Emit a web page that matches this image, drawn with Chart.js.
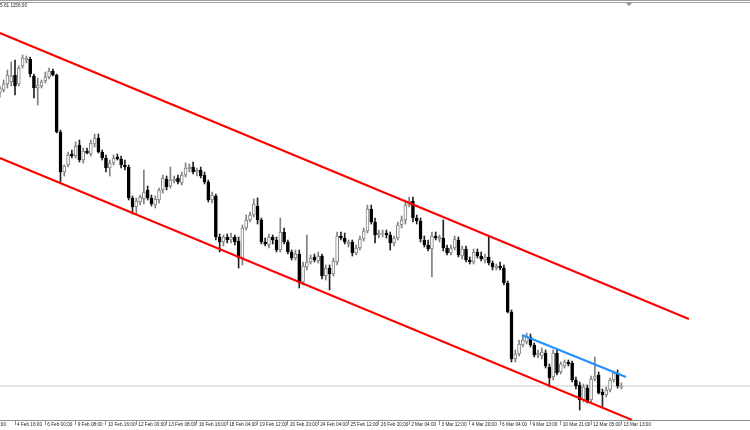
<!DOCTYPE html>
<html>
<head>
<meta charset="utf-8">
<script src="https://cdn.jsdelivr.net/npm/chart.js@4.4.1/dist/chart.umd.min.js"></script>
<style>
  html, body { margin: 0; padding: 0; background: #fff; }
  #wrap { width: 750px; height: 430px; }
</style>
</head>
<body>
<div id="wrap"><canvas id="chart" width="750" height="430"></canvas></div>
<script>
// Gold H4 candles, 4 Feb - 13 Mar (one entry per bar)
const open = [
  1272.8, 1274.0, 1276.4, 1277.2, 1280.0, 1276.4, 1283.6, 1286.0, 1286.4, 1279.6,
  1274.8, 1275.6, 1277.6, 1279.2, 1281.6, 1280.0, 1257.2, 1241.2, 1244.0, 1248.4,
  1247.6, 1252.0, 1246.0, 1249.6, 1248.4, 1252.4, 1254.8, 1249.2, 1246.8, 1242.8,
  1244.8, 1247.2, 1246.4, 1244.0, 1243.2, 1230.8, 1227.2, 1229.2, 1230.4, 1234.0,
  1230.8, 1228.0, 1230.0, 1234.0, 1238.4, 1235.6, 1237.6, 1238.8, 1236.8, 1240.0,
  1242.4, 1243.2, 1241.2, 1242.0, 1240.0, 1237.2, 1230.0, 1231.6, 1215.2, 1213.2,
  1215.2, 1214.0, 1215.2, 1213.6, 1206.8, 1218.8, 1222.0, 1224.0, 1227.6, 1222.0,
  1213.2, 1212.0, 1215.2, 1214.0, 1210.0, 1217.2, 1213.2, 1209.2, 1206.8, 1208.4,
  1197.2, 1203.2, 1205.2, 1207.2, 1205.6, 1207.6, 1199.6, 1202.8, 1200.4, 1205.2,
  1215.6, 1214.8, 1212.4, 1213.2, 1208.8, 1210.8, 1214.4, 1217.6, 1226.4, 1221.2,
  1216.0, 1216.4, 1216.8, 1216.0, 1212.8, 1214.8, 1220.0, 1222.0, 1228.0, 1229.6,
  1222.8, 1221.6, 1214.0, 1212.0, 1210.4, 1215.6, 1214.4, 1214.8, 1210.8, 1208.8,
  1210.8, 1214.0, 1207.6, 1210.4, 1206.0, 1205.2, 1209.2, 1207.6, 1206.0, 1207.2,
  1204.8, 1202.8, 1203.6, 1202.8, 1196.8, 1185.2, 1166.4, 1168.4, 1172.0, 1173.2,
  1175.2, 1172.0, 1168.0, 1167.6, 1168.8, 1163.2, 1159.2, 1168.8, 1161.2, 1163.6,
  1165.2, 1164.8, 1158.0, 1156.0, 1150.0, 1154.8, 1150.0, 1158.4, 1160.0, 1153.2,
  1152.0, 1154.0, 1158.0, 1160.8, 1155.2
];
const high = [
  1275.6, 1278.0, 1282.0, 1285.2, 1286.0, 1283.6, 1288.0, 1287.6, 1287.2, 1280.4,
  1278.8, 1278.0, 1281.2, 1282.8, 1282.4, 1280.4, 1258.0, 1244.0, 1249.2, 1250.0,
  1253.2, 1254.0, 1250.8, 1250.8, 1254.0, 1256.4, 1256.4, 1250.0, 1248.0, 1246.0,
  1248.0, 1248.4, 1247.6, 1246.0, 1244.0, 1231.6, 1230.8, 1232.0, 1242.0, 1235.6,
  1232.0, 1231.6, 1234.8, 1240.0, 1239.6, 1243.2, 1239.6, 1240.0, 1241.2, 1244.8,
  1244.4, 1245.2, 1242.8, 1243.2, 1241.2, 1238.0, 1233.2, 1232.4, 1216.4, 1216.0,
  1216.4, 1216.8, 1216.0, 1215.2, 1220.0, 1224.0, 1225.2, 1230.4, 1230.8, 1222.8,
  1214.8, 1216.4, 1216.0, 1215.2, 1222.8, 1218.8, 1214.0, 1210.0, 1210.0, 1210.0,
  1205.2, 1216.0, 1208.0, 1208.4, 1209.2, 1208.4, 1204.0, 1204.0, 1206.8, 1217.2,
  1217.2, 1216.8, 1214.0, 1214.0, 1212.0, 1215.6, 1218.8, 1228.0, 1228.0, 1222.8,
  1218.0, 1218.0, 1218.0, 1217.2, 1215.6, 1221.2, 1223.6, 1230.0, 1231.2, 1231.2,
  1224.0, 1222.8, 1215.6, 1214.0, 1217.2, 1217.2, 1216.0, 1222.0, 1212.0, 1212.0,
  1215.6, 1215.2, 1211.6, 1211.6, 1207.2, 1210.4, 1210.4, 1209.2, 1208.4, 1215.2,
  1205.6, 1204.4, 1205.2, 1204.0, 1197.6, 1186.0, 1170.0, 1174.0, 1175.6, 1176.8,
  1176.4, 1172.8, 1170.0, 1170.8, 1170.0, 1164.4, 1170.0, 1170.0, 1165.2, 1166.0,
  1166.0, 1165.6, 1159.2, 1157.2, 1156.4, 1156.0, 1159.6, 1167.2, 1161.2, 1154.4,
  1155.2, 1158.8, 1161.6, 1162.0, 1156.8
];
const low = [
  1271.2, 1273.2, 1274.8, 1275.6, 1272.0, 1275.6, 1282.8, 1284.8, 1279.2, 1270.8,
  1268.0, 1274.8, 1276.8, 1278.4, 1279.6, 1256.8, 1237.2, 1239.6, 1243.2, 1246.8,
  1246.8, 1245.2, 1244.8, 1248.4, 1247.6, 1251.2, 1248.8, 1246.0, 1241.2, 1239.6,
  1244.0, 1246.0, 1242.8, 1242.0, 1230.0, 1224.4, 1224.4, 1228.0, 1228.4, 1230.0,
  1227.6, 1226.8, 1228.8, 1232.8, 1234.0, 1234.8, 1236.8, 1236.4, 1236.0, 1239.2,
  1241.2, 1240.4, 1239.6, 1238.8, 1236.4, 1229.2, 1228.8, 1214.0, 1209.2, 1211.6,
  1212.8, 1212.8, 1212.0, 1202.8, 1204.0, 1218.0, 1221.2, 1223.2, 1220.4, 1212.4,
  1211.6, 1210.8, 1212.4, 1209.2, 1209.2, 1212.4, 1208.4, 1206.0, 1206.0, 1194.8,
  1196.0, 1202.0, 1204.4, 1205.2, 1204.8, 1198.4, 1198.0, 1194.0, 1199.6, 1204.0,
  1214.0, 1212.4, 1211.2, 1207.6, 1208.0, 1210.0, 1213.6, 1216.8, 1220.4, 1212.8,
  1214.8, 1215.2, 1214.8, 1210.0, 1211.6, 1214.0, 1218.8, 1220.4, 1227.2, 1221.2,
  1220.4, 1213.2, 1211.2, 1209.6, 1199.2, 1214.0, 1213.2, 1209.6, 1208.0, 1208.0,
  1210.0, 1207.2, 1206.4, 1205.2, 1204.4, 1204.4, 1206.8, 1205.6, 1204.8, 1204.0,
  1202.0, 1202.0, 1202.0, 1196.0, 1184.8, 1165.2, 1165.2, 1167.6, 1171.2, 1172.4,
  1171.2, 1167.2, 1166.8, 1166.4, 1162.8, 1155.2, 1158.0, 1160.0, 1160.4, 1162.8,
  1163.6, 1157.2, 1154.4, 1146.0, 1149.2, 1148.8, 1149.2, 1157.6, 1152.4, 1147.2,
  1151.2, 1153.2, 1157.2, 1154.8, 1154.4
];
const close = [
  1274.8, 1276.4, 1280.0, 1279.6, 1275.6, 1282.8, 1286.8, 1286.8, 1280.4, 1274.8,
  1276.0, 1277.2, 1279.2, 1281.6, 1280.0, 1257.2, 1241.2, 1243.6, 1248.0, 1247.6,
  1251.6, 1246.0, 1249.6, 1248.8, 1252.8, 1254.8, 1249.2, 1246.8, 1242.8, 1244.8,
  1246.8, 1246.4, 1244.0, 1243.2, 1230.8, 1227.2, 1229.6, 1231.2, 1233.2, 1230.8,
  1228.4, 1230.4, 1234.0, 1238.8, 1235.2, 1238.0, 1238.4, 1237.2, 1240.0, 1242.8,
  1243.2, 1241.2, 1242.0, 1239.6, 1237.2, 1230.0, 1232.0, 1215.2, 1213.2, 1215.2,
  1214.0, 1215.2, 1213.2, 1206.8, 1218.8, 1222.0, 1224.0, 1228.4, 1222.0, 1213.2,
  1212.4, 1215.2, 1214.0, 1210.0, 1217.2, 1213.2, 1209.2, 1206.8, 1208.4, 1196.8,
  1203.6, 1205.2, 1206.8, 1206.0, 1207.6, 1199.6, 1202.8, 1200.4, 1205.6, 1215.6,
  1214.8, 1213.2, 1213.2, 1208.8, 1210.8, 1214.4, 1217.6, 1226.4, 1221.2, 1216.0,
  1216.8, 1216.8, 1216.0, 1212.8, 1214.8, 1220.0, 1222.0, 1228.0, 1229.6, 1222.8,
  1221.6, 1214.4, 1212.0, 1210.4, 1215.6, 1214.8, 1215.2, 1210.8, 1208.8, 1210.8,
  1214.4, 1208.0, 1210.4, 1206.0, 1205.2, 1209.2, 1207.6, 1206.4, 1207.2, 1204.8,
  1203.2, 1203.6, 1202.8, 1196.8, 1185.2, 1166.4, 1168.4, 1172.4, 1174.0, 1175.2,
  1172.0, 1168.0, 1168.8, 1169.2, 1163.6, 1158.8, 1168.8, 1160.8, 1164.4, 1165.2,
  1164.4, 1158.0, 1155.6, 1150.0, 1155.2, 1149.2, 1158.4, 1159.6, 1152.8, 1152.0,
  1154.0, 1158.0, 1160.8, 1155.6, 1155.6
];

// time axis labels (bar index -> text)
const tickIndex = [4, 12, 20, 28, 36, 44, 52, 60, 68, 76, 84, 92, 100, 108, 116, 124, 132, 140, 148, 156, 164];
const tickText = [
  '4 Feb 16:00', '6 Feb 00:00', '9 Feb 08:00', '10 Feb 16:00', '12 Feb 00:00', '13 Feb 08:00',
  '16 Feb 16:00', '18 Feb 04:00', '19 Feb 12:00', '20 Feb 20:00', '24 Feb 04:00', '25 Feb 12:00',
  '26 Feb 20:00', '2 Mar 04:00', '3 Mar 12:00', '4 Mar 20:00', '6 Mar 04:00', '9 Mar 13:00',
  '10 Mar 21:00', '12 Mar 05:00', '13 Mar 13:00'
];
// leftmost label, cut by the window edge
const cutTickIndex = -5.5;
const cutTickText = '3 Feb 08:00';

// drawn trend lines: [barIndex, price]
const upperChannel = [[0, 1296.8], [181.8, 1182.4]];
const lowerChannel = [[0, 1246.8], [166.8, 1142.0]];
const blueTrend = [[137.8, 1176.0], [165.2, 1159.2]];
const lastPrice = 1155.6;
const headerText = '5.61 1156.00';

const isBull = open.map((o, i) => close[i] >= o);
const bodyFill = isBull.map(b => b ? '#ffffff' : '#000000');
const bodyEdge = isBull.map(b => b ? '#808080' : '#000000');
const wickColor = isBull.map(b => b ? '#808080' : '#222222');

const toPoints = arr => arr.map(p => ({ x: p[0], y: p[1] }));
const labelFont = '4.7px "Liberation Sans", Arial, sans-serif';

// window frame, header text and the cut-off first time label
const framePlugin = {
    id: 'frame',
    beforeDraw(chart) {
        const ctx = chart.ctx;
        ctx.save();
        ctx.fillStyle = '#ffffff';
        ctx.fillRect(0, 0, chart.width, chart.height);
        ctx.restore();
    },
    afterDraw(chart) {
        const ctx = chart.ctx;
        const xs = chart.scales.x;
        ctx.save();
        ctx.strokeStyle = '#a0a0a0';
        ctx.lineWidth = 1;
        ctx.beginPath();
        ctx.moveTo(0, 0.5); ctx.lineTo(chart.width, 0.5);
        ctx.moveTo(0, 2.5); ctx.lineTo(chart.width, 2.5);
        ctx.stroke();
        ctx.fillStyle = '#909090';
        ctx.beginPath();
        ctx.moveTo(626, 3); ctx.lineTo(632, 3); ctx.lineTo(629, 6);
        ctx.fill();
        ctx.fillStyle = '#222222';
        ctx.font = labelFont;
        ctx.textBaseline = 'middle';
        ctx.fillText(headerText, 0, 5.5);
        ctx.textBaseline = 'middle';
        ctx.textAlign = 'left';
        ctx.fillText(cutTickText, xs.getPixelForValue(cutTickIndex) + 2, chart.chartArea.bottom + 5);
        ctx.restore();
    }
};

new Chart(document.getElementById('chart'), {
    type: 'bar',
    data: {
        datasets: [
            {
                type: 'line',
                data: toPoints(upperChannel),
                borderColor: '#ff0000',
                borderWidth: 2,
                pointRadius: 0,
                order: 0
            },
            {
                type: 'line',
                data: toPoints(lowerChannel),
                borderColor: '#ff0000',
                borderWidth: 2,
                pointRadius: 0,
                order: 0
            },
            {
                type: 'line',
                data: toPoints(blueTrend),
                borderColor: '#1e90ff',
                borderWidth: 2,
                pointRadius: 0,
                order: 0
            },
            {
                label: 'Body',
                data: open.map((o, i) => ({ x: i, y: [o, close[i]] })),
                backgroundColor: bodyFill,
                borderColor: bodyEdge,
                borderWidth: 1,
                borderSkipped: false,
                barThickness: 3,
                minBarLength: 1,
                grouped: false,
                order: 1
            },
            {
                label: 'Wick',
                data: low.map((l, i) => ({ x: i, y: [l, high[i]] })),
                backgroundColor: wickColor,
                borderWidth: 0,
                barThickness: 1,
                grouped: false,
                order: 2
            },
            {
                type: 'line',
                data: [{ x: -5, y: lastPrice }, { x: 210, y: lastPrice }],
                borderColor: '#c8c8c8',
                borderWidth: 1,
                pointRadius: 0,
                order: 3
            }
        ]
    },
    options: {
        responsive: false,
        animation: false,
        devicePixelRatio: 1,
        layout: { padding: { top: 3, left: 0, right: 0, bottom: 0 } },
        plugins: {
            legend: { display: false },
            tooltip: { enabled: false }
        },
        scales: {
            x: {
                type: 'linear',
                min: 0.042,
                max: 197.93,
                offset: false,
                afterBuildTicks: function(scale) {
                    scale.ticks = tickIndex.map(v => ({ value: v }));
                },
                afterFit: function(scale) {
                    scale.height = 10;
                },
                grid: {
                    display: true,
                    drawOnChartArea: false,
                    drawTicks: true,
                    tickLength: 5,
                    color: '#909090',
                    offset: false
                },
                border: { display: true, color: '#909090' },
                ticks: {
                    autoSkip: false,
                    maxRotation: 0,
                    align: 'start',
                    labelOffset: 2,
                    padding: -3,
                    color: '#222222',
                    font: { family: 'Liberation Sans', size: 4.7 },
                    callback: function(value, index) {
                        return tickText[index];
                    }
                }
            },
            y: {
                display: false,
                min: 1142,
                max: 1308.8
            }
        }
    },
    plugins: [framePlugin]
});
</script>
</body>
</html>
